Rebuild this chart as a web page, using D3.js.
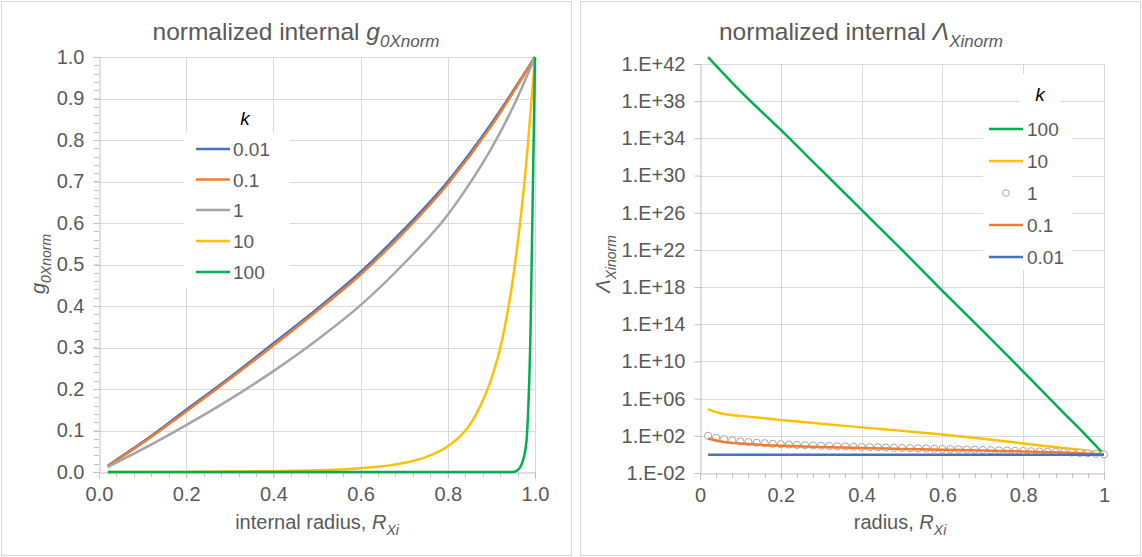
<!DOCTYPE html>
<html>
<head>
<meta charset="utf-8">
<script src="https://cdn.jsdelivr.net/npm/d3@7"></script>
<style>
    body { margin: 0; background: #fff; }
    svg text { font-family: "Liberation Sans", Arial, sans-serif; fill: #595959; }
</style>
</head>
<body>
<svg id="svg" width="1142" height="557"></svg>
<script>
// k values of the series and their colours (same order in both charts)
let kLabels = ["0.01", "0.1", "1", "10", "100"];
let kColors = ["#4472C4", "#ED7D31", "#A5A5A5", "#FFC000", "#00B050"];

// Left chart - normalized internal g0X against internal radius
let gRadius = [0.02, 0.1, 0.2, 0.3, 0.4, 0.5, 0.6, 0.7, 0.8, 0.9, 1.0];
let gK001 = [0.015, 0.072, 0.150, 0.228, 0.310, 0.393, 0.482, 0.585, 0.700, 0.840, 1.0];
let gK01 = [0.014, 0.070, 0.146, 0.224, 0.305, 0.388, 0.476, 0.578, 0.694, 0.834, 1.0];
let gRadiusK1 = [0.02, 0.1, 0.2, 0.3, 0.4, 0.5, 0.6, 0.7, 0.8, 0.85, 0.9, 0.95, 1.0];
let gK1 = [0.012, 0.055, 0.113, 0.175, 0.243, 0.318, 0.402, 0.503, 0.620, 0.695, 0.780, 0.880, 1.0];
let gRadiusK10 = [0.02, 0.2, 0.4, 0.5, 0.6, 0.7, 0.75, 0.8, 0.825, 0.85, 0.875, 0.9, 0.925, 0.95, 0.975, 1.0];
let gK10 = [0, 0.0003, 0.002, 0.004, 0.009, 0.022, 0.036, 0.062, 0.083, 0.113, 0.16, 0.225, 0.32, 0.47, 0.69, 1.0];
let gRadiusK100 = [0.02, 0.5, 0.9, 0.95, 0.96, 0.97, 0.98, 0.99, 1.0];
let gK100 = [0, 0, 0, 0, 0.004, 0.02, 0.07, 0.35, 1.0];

// Right chart - normalized internal Lambda against radius (log axis)
let lamRadius = [0.02, 0.2, 0.4, 0.6, 0.8, 1.0];
let lamK001 = [0.9, 0.9, 0.9, 0.9, 0.9, 0.9];
let lamRadiusK01 = [0.02, 0.04, 0.06, 0.08, 0.1, 0.15, 0.2, 0.3, 0.4, 0.5, 0.6, 0.7, 0.8, 0.9, 1.0];
let lamK01 = [51, 32, 22, 17.4, 14.5, 10.7, 8.7, 6.3, 4.8, 3.9, 3.2, 2.6, 2.1, 1.6, 1.05];
let lamRadiusK1 = [0.02, 0.04, 0.06, 0.08, 0.10, 0.12, 0.14, 0.16, 0.18, 0.20,
                   0.22, 0.24, 0.26, 0.28, 0.30, 0.32, 0.34, 0.36, 0.38, 0.40,
                   0.42, 0.44, 0.46, 0.48, 0.50, 0.52, 0.54, 0.56, 0.58, 0.60,
                   0.62, 0.64, 0.66, 0.68, 0.70, 0.72, 0.74, 0.76, 0.78, 0.80,
                   0.82, 0.84, 0.86, 0.88, 0.90, 0.92, 0.94, 0.96, 0.98, 1.00];
let lamK1 = [100, 60, 42, 32, 25, 21, 18, 16, 14, 12.6,
             11.5, 10.5, 9.8, 9.1, 8.5, 7.9, 7.4, 7.1, 6.6, 6.3,
             6.0, 5.8, 5.5, 5.1, 4.9, 4.7, 4.5, 4.3, 4.1, 3.8,
             3.6, 3.5, 3.3, 3.2, 3.0, 2.9, 2.7, 2.6, 2.45, 2.3,
             2.2, 2.05, 1.9, 1.8, 1.7, 1.55, 1.4, 1.3, 1.15, 1.0];
let lamRadiusK10 = [0.02, 0.04, 0.06, 0.1, 0.2, 0.3, 0.4, 0.5, 0.6, 0.7, 0.8, 0.9, 0.95, 1.0];
let lamK10 = [7.6e4, 3.5e4, 2.2e4, 1.4e4, 5.1e3, 2.0e3, 8.1e2, 3.4e2, 1.4e2, 48, 15, 4.8, 2.8, 1];
let lamRadiusK100 = [0.02, 0.1, 0.2, 0.3, 0.4, 0.5, 0.6, 0.7, 0.8, 0.9, 0.95, 1.0];
let lamK100 = [5.6e42, 1.2e39, 8e34, 4e30, 2e26, 1e22, 4e17, 2e13, 8e8, 3e4, 2e2, 1];

// Tick labels
let gTicksY = [0, 0.1, 0.2, 0.3, 0.4, 0.5, 0.6, 0.7, 0.8, 0.9, 1.0];
let radiusTicks = [0, 0.2, 0.4, 0.6, 0.8, 1.0];
let lamTicksY = [1e-2, 1e2, 1e6, 1e10, 1e14, 1e18, 1e22, 1e26, 1e30, 1e34, 1e38, 1e42];

let svg = d3.select("#svg");
let gridColor = "#D9D9D9";
let axisColor = "#BFBFBF";
let tickFont = 20, titleFont = 24.5, axisTitleFont = 20, legendFont = 19;

//Chart frames
svg.append("rect").attr("x", 1.5).attr("y", 1.5).attr("width", 570).attr("height", 554)
    .attr("fill", "white").attr("stroke", gridColor);
svg.append("rect").attr("x", 580.5).attr("y", 1.5).attr("width", 560).attr("height", 554)
    .attr("fill", "white").attr("stroke", gridColor);

//Builds a text element made of plain / italic / subscript pieces
function richText(parent, x, y, size, parts, anchor, rotate) {
    let t = parent.append("text")
        .attr("x", x).attr("y", y)
        .attr("text-anchor", anchor || "middle")
        .style("font-size", size + "px");
    if (rotate) t.attr("transform", "rotate(-90," + x + "," + y + ")");
    parts.forEach(function (p) {
        let s = t.append("tspan").text(p.text);
        if (p.italic) s.style("font-style", "italic");
        if (p.sub) {
            s.style("font-size", Math.round(size * 0.7) + "px").attr("dy", size * 0.3);
        }
    });
    return t;
}

//Draws the grid, axes and ticks for one chart
function drawAxes(x, y, yTicks, yFormat, xFormat, xMinor, yMinor) {
    let x0 = x.range()[0], x1 = x.range()[1];
    let yb = y.range()[0], yt = y.range()[1];

    // gridlines
    svg.append("g").selectAll("line").data(yTicks.slice(1)).enter().append("line")
        .attr("x1", x0).attr("x2", x1)
        .attr("y1", d => Math.round(y(d)) + 0.5).attr("y2", d => Math.round(y(d)) + 0.5)
        .attr("stroke", gridColor);
    svg.append("g").selectAll("line").data(radiusTicks.slice(1)).enter().append("line")
        .attr("x1", d => Math.round(x(d)) + 0.5).attr("x2", d => Math.round(x(d)) + 0.5)
        .attr("y1", yt).attr("y2", yb)
        .attr("stroke", gridColor);

    // minor ticks
    if (yMinor) {
        svg.append("g").selectAll("line").data(yMinor).enter().append("line")
            .attr("x1", x0 - 5).attr("x2", x0)
            .attr("y1", d => Math.round(y(d)) + 0.5).attr("y2", d => Math.round(y(d)) + 0.5)
            .attr("stroke", axisColor);
    }
    svg.append("g").selectAll("line").data(xMinor).enter().append("line")
        .attr("x1", d => Math.round(x(d)) + 0.5).attr("x2", d => Math.round(x(d)) + 0.5)
        .attr("y1", yb).attr("y2", yb + 5)
        .attr("stroke", axisColor);

    // y axis
    let ya = svg.append("g").attr("transform", "translate(" + (Math.round(x0) + 0.5) + ",0)")
        .call(d3.axisLeft(y).tickValues(yTicks).tickFormat(yFormat).tickSize(6).tickPadding(9));
    // x axis
    let xa = svg.append("g").attr("transform", "translate(0," + (Math.round(yb) + 0.5) + ")")
        .call(d3.axisBottom(x).tickValues(radiusTicks).tickFormat(xFormat).tickSize(6).tickPadding(8));

    [ya, xa].forEach(function (a) {
        a.select(".domain").attr("stroke", axisColor);
        a.selectAll(".tick line").attr("stroke", axisColor);
        a.selectAll(".tick text").style("font-size", tickFont + "px").attr("fill", "#595959")
            .style("font-family", "'Liberation Sans', Arial, sans-serif");
    });
}

//Draws the legend: a white box with a short line (or marker) per entry
function drawLegend(box, entries, lineX, textX, rowY) {
    svg.append("rect").attr("x", box[0]).attr("y", box[1]).attr("width", box[2]).attr("height", box[3])
        .attr("fill", "white");
    entries.forEach(function (e, i) {
        let cy = rowY[i];
        if (e.marker) {
            svg.append("circle").attr("cx", (lineX[0] + lineX[1]) / 2).attr("cy", cy).attr("r", 3.3)
                .attr("fill", "white").attr("stroke", e.color).attr("stroke-width", 1);
        } else {
            svg.append("line").attr("x1", lineX[0]).attr("x2", lineX[1]).attr("y1", cy).attr("y2", cy)
                .attr("stroke", e.color).attr("stroke-width", 2.5);
        }
        svg.append("text").attr("x", textX).attr("y", cy + 7).style("font-size", legendFont + "px").text(e.label);
    });
}

// ---------------- Left chart ----------------
let xL = d3.scaleLinear().domain([0, 1]).range([99, 535]);
let yL = d3.scaleLinear().domain([0, 1]).range([472, 57]);

drawAxes(xL, yL, gTicksY, d3.format(".1f"), d3.format(".1f"),
    d3.range(0, 1.0001, 0.04), d3.range(0, 1.0001, 0.02));

let lineL = d3.line().x(d => xL(d[0])).y(d => yL(d[1])).curve(d3.curveMonotoneX);
let gSeries = [
    [gRadius, gK001], [gRadius, gK01], [gRadiusK1, gK1], [gRadiusK10, gK10], [gRadiusK100, gK100]
];
gSeries.forEach(function (s, i) {
    svg.append("path").datum(d3.zip(s[0], s[1]))
        .attr("d", lineL)
        .attr("fill", "none")
        .attr("stroke", kColors[i])
        .attr("stroke-width", 2.5);
});

richText(svg, 296, 40, titleFont, [
    { text: "normalized internal " }, { text: "g", italic: true }, { text: "0Xnorm", italic: true, sub: true }
]);
richText(svg, 317, 529, axisTitleFont, [
    { text: "internal radius, " }, { text: "R", italic: true }, { text: "Xi", italic: true, sub: true }
]);
richText(svg, 45, 264, axisTitleFont, [
    { text: "g", italic: true }, { text: "0Xnorm", italic: true, sub: true }
], "middle", true);

drawLegend([184, 133, 106, 155],
    kLabels.map((l, i) => ({ label: l, color: kColors[i] })),
    [196, 230], 233, [149, 179.5, 210, 241, 272]);
svg.append("text").attr("x", 245).attr("y", 125).style("font-size", legendFont + "px")
    .style("font-style", "italic").attr("text-anchor", "middle").style("fill", "#000").text("k");

// ---------------- Right chart ----------------
let xR = d3.scaleLinear().domain([0, 1]).range([700, 1104]);
let yR = d3.scaleLog().domain([1e-2, 1e42]).range([473, 64]);

function expFormat(d) {
    let e = Math.round(Math.log10(d));
    return "1.E" + (e < 0 ? "-" : "+") + String(Math.abs(e)).padStart(2, "0");
}

drawAxes(xR, yR, lamTicksY, expFormat, d3.format(".1~f"), d3.range(0, 1.0001, 0.04), null);

let lineR = d3.line().x(d => xR(d[0])).y(d => yR(d[1])).curve(d3.curveMonotoneX);

// drawn in legend order: 100, 10, 1 (markers), 0.1, 0.01
svg.append("path").datum(d3.zip(lamRadiusK100, lamK100)).attr("d", lineR)
    .attr("fill", "none").attr("stroke", kColors[4]).attr("stroke-width", 2.5);
svg.append("path").datum(d3.zip(lamRadiusK10, lamK10)).attr("d", lineR)
    .attr("fill", "none").attr("stroke", kColors[3]).attr("stroke-width", 2.5);
svg.append("g").selectAll("circle").data(d3.zip(lamRadiusK1, lamK1)).enter().append("circle")
    .attr("cx", d => xR(d[0])).attr("cy", d => yR(d[1])).attr("r", 3.6)
    .attr("fill", "white").attr("stroke", kColors[2]).attr("stroke-width", 1);
svg.append("path").datum(d3.zip(lamRadiusK01, lamK01)).attr("d", lineR)
    .attr("fill", "none").attr("stroke", kColors[1]).attr("stroke-width", 2.5);
svg.append("path").datum(d3.zip(lamRadius, lamK001)).attr("d", lineR)
    .attr("fill", "none").attr("stroke", kColors[0]).attr("stroke-width", 2.5);

richText(svg, 861, 40, titleFont, [
    { text: "normalized internal " }, { text: "Λ", italic: true }, { text: "Xinorm", italic: true, sub: true }
]);
richText(svg, 900, 529, axisTitleFont, [
    { text: "radius, " }, { text: "R", italic: true }, { text: "Xi", italic: true, sub: true }
]);
richText(svg, 610, 264, axisTitleFont, [
    { text: "Λ", italic: true }, { text: "Xinorm", italic: true, sub: true }
], "middle", true);

// "k" label box then legend box
svg.append("rect").attr("x", 1020).attr("y", 74).attr("width", 40).attr("height", 38).attr("fill", "white");
svg.append("text").attr("x", 1040).attr("y", 101).style("font-size", legendFont + "px")
    .style("font-style", "italic").attr("text-anchor", "middle").style("fill", "#000").text("k");
drawLegend([983, 112, 89, 158],
    [4, 3, 2, 1, 0].map(i => ({ label: kLabels[i], color: kColors[i], marker: i == 2 })),
    [989, 1023], 1027, [129, 161, 193, 225, 257]);
</script>
</body>
</html>
